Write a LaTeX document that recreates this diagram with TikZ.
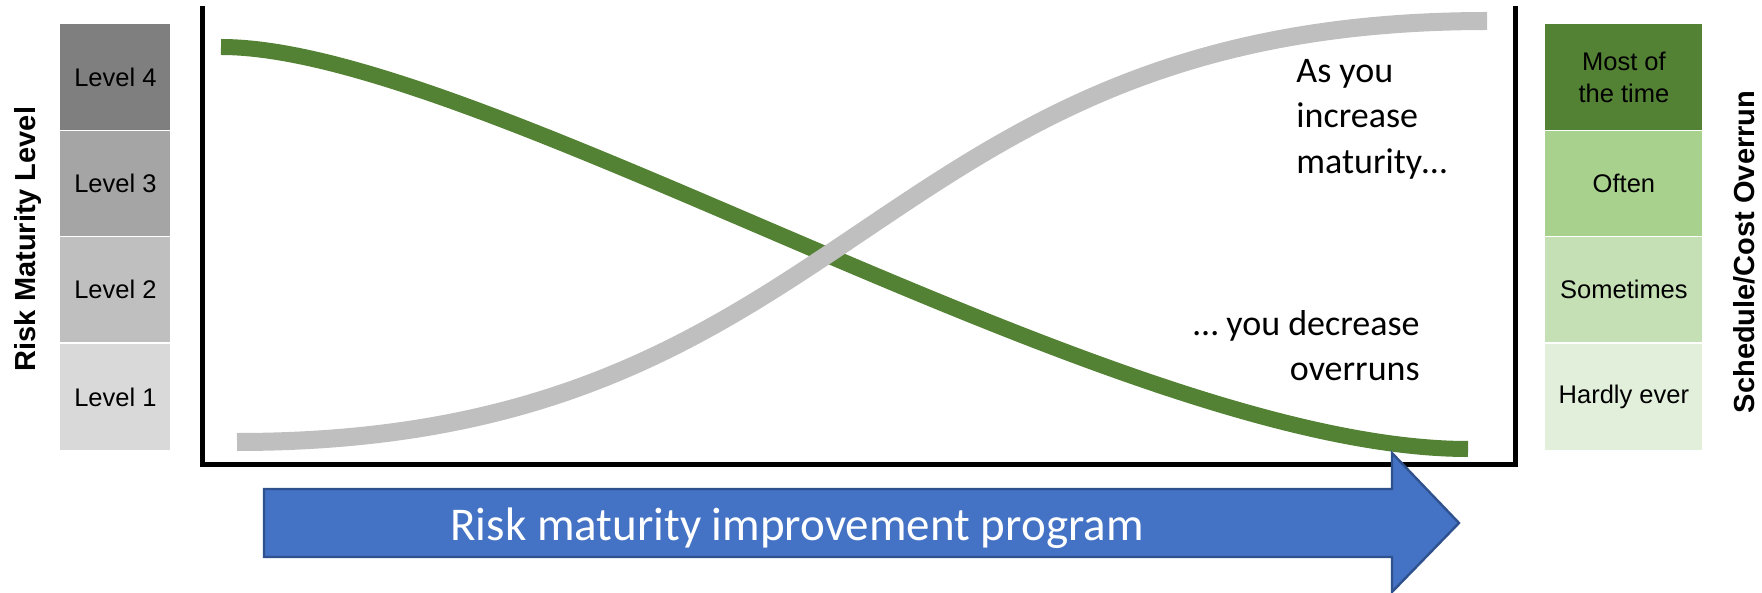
\documentclass[tikz,border=0pt]{standalone}
\usepackage{fontspec}
\setmainfont{Liberation Sans}
\newfontfamily\calibri{Carlito}
\usetikzlibrary{arrows.meta,positioning}
\definecolor{lvlfour}{HTML}{7F7F7F}
\definecolor{lvlthree}{HTML}{A5A5A5}
\definecolor{lvltwo}{HTML}{BFBFBF}
\definecolor{lvlone}{HTML}{D9D9D9}
\definecolor{ovrfour}{HTML}{548235}
\definecolor{ovrthree}{HTML}{A9D18E}
\definecolor{ovrtwo}{HTML}{C5E0B4}
\definecolor{ovrone}{HTML}{E2EFDA}
\definecolor{progblue}{HTML}{4472C4}
\definecolor{progedge}{HTML}{2F528F}

\begin{document}
\begin{tikzpicture}[x=0.5pt, y=-0.5pt,
    lvlbox/.style={minimum width=55pt, minimum height=52.75pt, inner sep=0pt,
        font=\fontsize{12.75}{15}\selectfont},
    ovrbox/.style={lvlbox, minimum width=78.5pt, align=center,
        font=\fontsize{12.75}{16}\selectfont},
    axistitle/.style={rotate=90, inner sep=0pt, font=\bfseries\fontsize{14.5}{17}\selectfont},
    note/.style={inner sep=0pt, font=\calibri\fontsize{18}{22.75}\selectfont}]
        \useasboundingbox (0,0) rectangle (1762,593);
        % maturity scale (left)
        \node[lvlbox, fill=lvlfour, anchor=north west] (lvl4) at (60,24) {Level 4};
        \node[lvlbox, fill=lvlthree, below=0pt of lvl4] (lvl3) {Level 3};
        \node[lvlbox, fill=lvltwo, below=0pt of lvl3] (lvl2) {Level 2};
        \node[lvlbox, fill=lvlone, below=0.5pt of lvl2] (lvl1) {Level 1};
        \node[axistitle] (maturity) at (28.5,239) {Risk Maturity Level};
        % overrun scale (right)
        \node[ovrbox, fill=ovrfour, anchor=north west] (ovr4) at (1545,24) {Most of\\the time};
        \node[ovrbox, fill=ovrthree, below=0pt of ovr4] (ovr3) {Often};
        \node[ovrbox, fill=ovrtwo, below=0pt of ovr3] (ovr2) {Sometimes};
        \node[ovrbox, fill=ovrone, below=0.5pt of ovr2] (ovr1) {Hardly ever};
        \node[axistitle] (overrun) at (1744.5,252) {Schedule/Cost Overrun};
        % open frame
        \draw[line width=2.5pt] (202,6) -- (202,464) -- (1515,464) -- (1515,6);
        % the two curves
        \draw[ovrfour, line width=8pt] (221,47) .. controls (481,47) and (1118,449) .. (1468,449);
        \draw[lvltwo, line width=9pt] (237,442) .. controls (862,442) and (862,21) .. (1487,21);
        \node[note, align=left, anchor=north west] (up) at (1296,59) {As you\\increase\\maturity…};
        \node[note, align=right, anchor=north east] (down) at (1420,310) {… you decrease\\overruns};
        % program arrow
        \draw[fill=progblue, draw=progedge, line width=1.2pt] (264,489) -- (1392,489) -- (1392,453)
            -- (1459,523) -- (1392,592) -- (1392,557) -- (264,557) -- cycle;
        \node[text=white, inner sep=0pt, font=\calibri\fontsize{23.5}{28}\selectfont,
            anchor=base] (progtext) at (797,540) {Risk maturity improvement program};
    \end{tikzpicture}
\end{document}
